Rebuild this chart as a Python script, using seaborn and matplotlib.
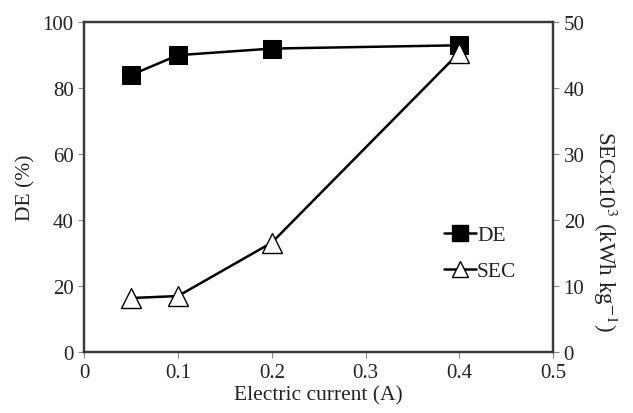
import pandas as pd
import seaborn as sns
import matplotlib.pyplot as plt
from matplotlib.lines import Line2D

# Data
current = [0.05, 0.1, 0.2, 0.4]
de_values = [84, 90, 92, 93]
sec_values = [8.2, 8.5, 16.6, 45.4]

df = pd.DataFrame({'current': current, 'DE': de_values, 'SEC': sec_values})

sns.set_style("ticks")
plt.rcParams['font.family'] = ['Liberation Serif', 'DejaVu Serif']
plt.rcParams['mathtext.fontset'] = 'stix'

fig = plt.figure(figsize=(6.33, 4.14), dpi=100)
ax = fig.add_axes([0.133, 0.147, 0.741, 0.797])
ax2 = ax.twinx()

text_color = '#222222'

sns.lineplot(data=df, x='current', y='DE', ax=ax, color='black', lw=1.8,
             marker='s', markersize=13, markerfacecolor='black',
             markeredgecolor='black', zorder=3)
sns.lineplot(data=df, x='current', y='SEC', ax=ax2, color='black', lw=1.8,
             marker='^', markersize=15, markerfacecolor='white',
             markeredgecolor='black', markeredgewidth=1.0, zorder=4)

ax.set_xlim(0, 0.5)
ax.set_ylim(0, 100)
ax2.set_ylim(0, 50)
ax.set_xticks([0, 0.1, 0.2, 0.3, 0.4, 0.5])
ax.set_xticklabels(['0', '0.1', '0.2', '0.3', '0.4', '0.5'])
ax.set_yticks(range(0, 101, 20))
ax2.set_yticks(range(0, 51, 10))

ax.set_xlabel('Electric current (A)', fontsize=15.5, color=text_color, labelpad=3)
ax.set_ylabel('DE (%)', fontsize=15.5, color=text_color, labelpad=5)
ax2.set_ylabel(r'SECx10$^3$ (kWh kg$^{-1}$)', fontsize=16.5, color=text_color,
               rotation=270, va='bottom')
ax2.yaxis.set_label_coords(1.08, 0.37)

for a in (ax, ax2):
    a.tick_params(labelsize=15, labelcolor=text_color, color='#888888',
                  length=4, width=0.8)
    for s in a.spines.values():
        s.set_linewidth(1.6)
        s.set_color('#3a3a3a')

handles = [
    Line2D([], [], color='black', lw=1.8, marker='s', markersize=11,
           markerfacecolor='black'),
    Line2D([], [], color='black', lw=1.8, marker='^', markersize=11,
           markerfacecolor='white', markeredgewidth=1.0),
]
ax.legend(handles, ['DE', 'SEC'], loc='center left',
          bbox_to_anchor=(0.725, 0.3), frameon=False, fontsize=15.5,
          handlelength=1.5, handletextpad=0.05, labelspacing=0.75,
          labelcolor=text_color)

plt.savefig('out.png', dpi=100)
